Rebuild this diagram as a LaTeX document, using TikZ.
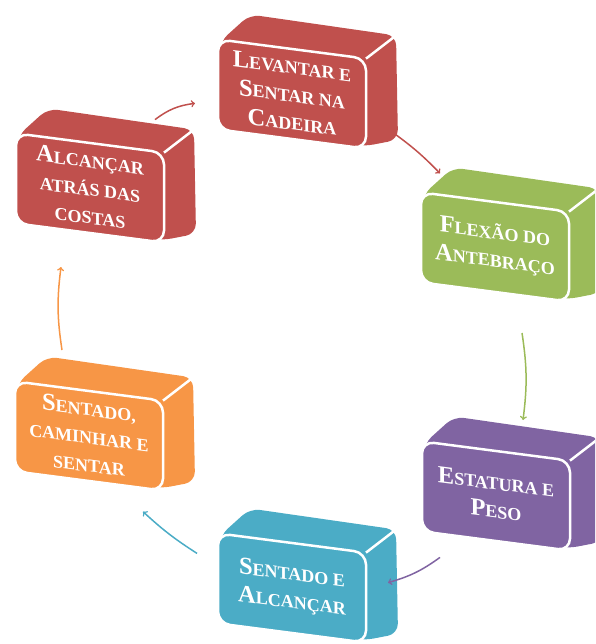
\documentclass[tikz,border=0pt]{standalone}
\usepackage{fontspec}
\setmainfont{Liberation Serif}
\definecolor{vermelho}{HTML}{C0504D}
\definecolor{verde}{HTML}{9BBB59}
\definecolor{roxo}{HTML}{8064A2}
\definecolor{azul}{HTML}{4BACC6}
\definecolor{laranja}{HTML}{F79646}
\newcommand{\Ini}[1]{{\fontsize{24.5}{28}\selectfont #1}}
\tikzset{
  face/.style={draw=white, line width=2.5pt, rounded corners=12pt,
    minimum width=148pt, minimum height=90pt, inner sep=0pt, outer sep=0pt,
    text=white, align=center, font=\fontsize{18}{28}\selectfont\bfseries,
    transform shape},
  seta/.style={->, line width=1.5pt}
}

\begin{document}
\begin{tikzpicture}[x=1pt, y=-1pt]
    \useasboundingbox (0,0) rectangle (595,644);
    \clip (0,0) rectangle (595,644);
    \foreach \nome/\cx/\cy/\cor/\texto in {
      levantar/292/94/vermelho/{\Ini{L}EVANTAR E\\\Ini{S}ENTAR NA\\\Ini{C}ADEIRA},
      alcancar/90/188/vermelho/{\Ini{A}LCANÇAR\\ATRÁS DAS\\COSTAS},
      flexao/495/247/verde/{\Ini{F}LEXÃO DO\\\Ini{A}NTEBRAÇO},
      estatura/496/496/roxo/{\Ini{E}STATURA E\\\Ini{P}ESO},
      sentadoa/292/588/azul/{\Ini{S}ENTADO E\\\Ini{A}LCANÇAR},
      caminhar/89/436/laranja/{\Ini{S}ENTADO,\\CAMINHAR E\\SENTAR}}
    {\begin{scope}[shift={(\cx,\cy)}, yslant=-0.13]
      \fill[\cor, rounded corners=10pt] (-72,43) -- (-72,-43) -- (-42,-74)
        -- (104,-72) -- (106,32) -- (72,43) -- cycle;
      \draw[white, line width=2.5pt] (74,-45) -- (104,-72);
      \node[face, fill=\cor] (\nome) at (0,0) {\texto};
     \end{scope}
    }

    \draw[seta, vermelho] ([shift={(-9,-33)}]alcancar.north east) to[bend left=15]
      ([shift={(-23,19)}]levantar.west);
    \draw[seta, vermelho] ([shift={(27,-16)}]levantar.south east) to[bend left=5]
      ([shift={(19,-19)}]flexao.north west);
    \draw[seta, verde] ([shift={(27,41)}]flexao.south) to[bend left=8]
      ([shift={(27,-31)}]estatura.north);
    \draw[seta, roxo] ([shift={(18,26)}]estatura.south west) to[bend left=10]
      ([shift={(22,-15)}]sentadoa.east);
    \draw[seta, azul] ([shift={(-21,-25)}]sentadoa.west) to[bend left=5]
      ([shift={(-20,21)}]caminhar.south east);
    \draw[seta, laranja] ([shift={(-27,-41)}]caminhar.north) to[bend left=8]
      ([shift={(-29,34)}]alcancar.south);
\end{tikzpicture}
\end{document}
